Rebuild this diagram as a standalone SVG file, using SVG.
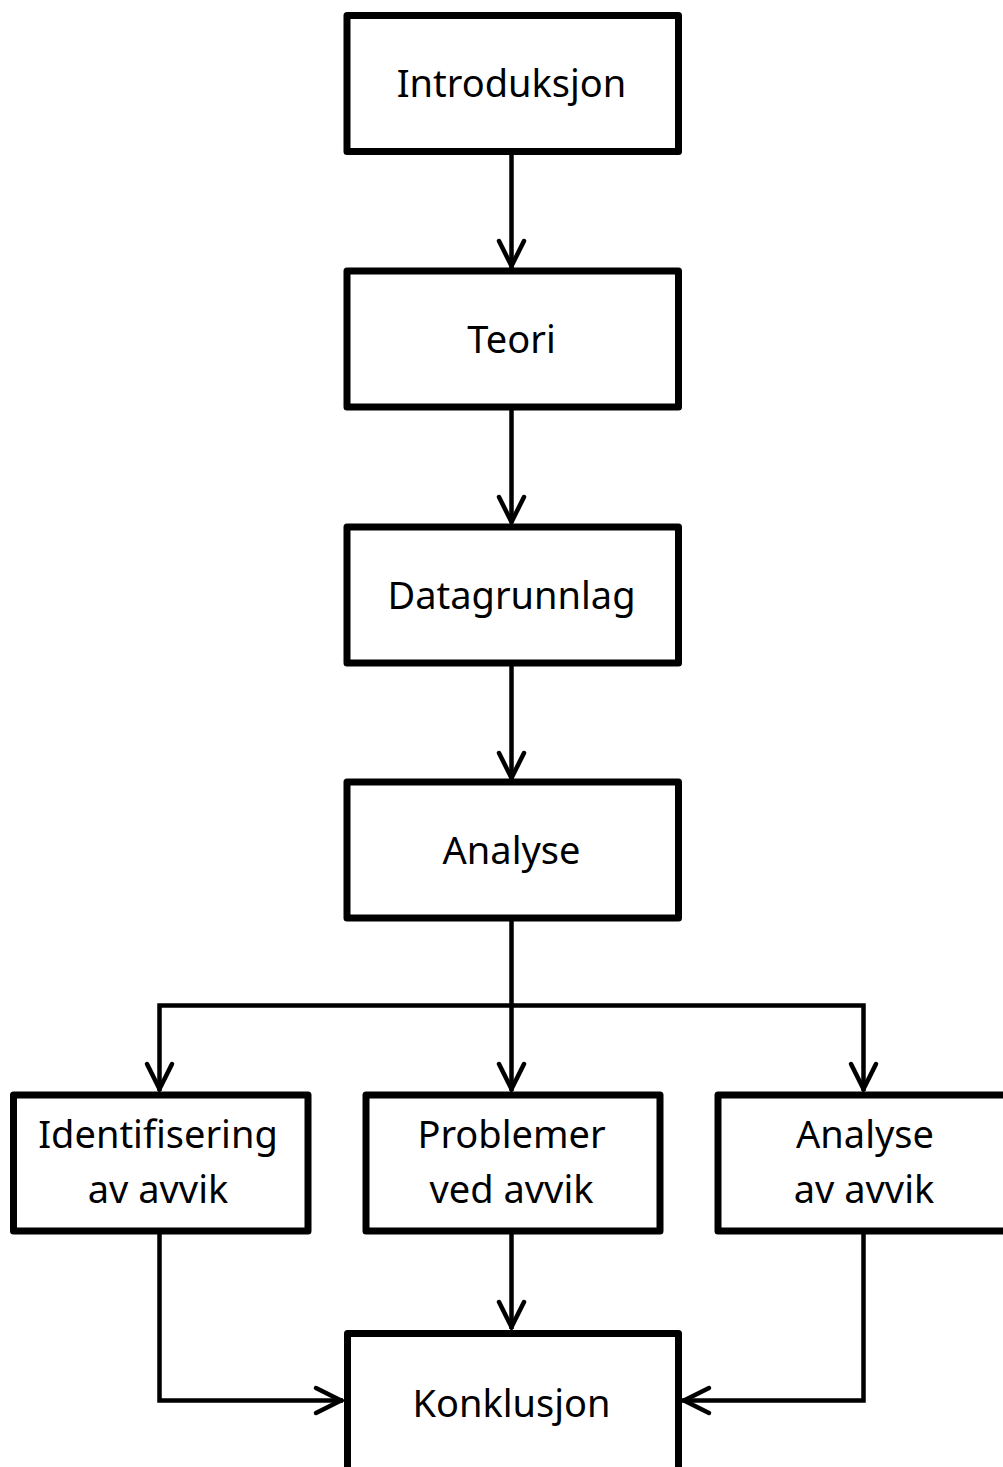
<svg xmlns="http://www.w3.org/2000/svg" width="1003" height="1467" viewBox="0 0 1003 1467">
<style>
.box{fill:#fff;stroke:#000;stroke-width:7;stroke-linejoin:round}
.c{fill:none;stroke:#000;stroke-width:4.5;stroke-linejoin:miter}
.ah{fill:none;stroke:#000;stroke-width:4.5;stroke-linecap:round;stroke-linejoin:miter}
text{font-family:"Noto Sans","Open Sans","Liberation Sans",sans-serif;font-size:38px;fill:#000;text-anchor:middle}
</style>
<rect width="1003" height="1467" fill="#fff"/>
<g id="connectors">
<path class="c" d="M511.5 151.5V268"/>
<path class="c" d="M511.5 407V523"/>
<path class="c" d="M511.5 663V779"/>
<path class="c" d="M511.5 918V1091"/>
<path class="c" d="M159.5 1091V1005.5H863.5V1091"/>
<path class="c" d="M159.5 1231V1400.5H343"/>
<path class="c" d="M863.5 1231V1400.5H682"/>
<path class="c" d="M511.5 1231V1329"/>
<path class="ah" d="M499 241L511.5 266L524 241"/>
<path class="ah" d="M499 497L511.5 522L524 497"/>
<path class="ah" d="M499 753L511.5 778L524 753"/>
<path class="ah" d="M147 1064L159.5 1089L172 1064"/>
<path class="ah" d="M499 1064L511.5 1089L524 1064"/>
<path class="ah" d="M851 1064L863.5 1089L876 1064"/>
<path class="ah" d="M499 1302L511.5 1327L524 1302"/>
<path class="ah" d="M316 1388L341 1400.5L316 1413"/>
<path class="ah" d="M709 1388L684 1400.5L709 1413"/>
</g>
<g id="n1"><rect class="box" x="347" y="15.5" width="331.5" height="136"/><text x="511.5" y="97">Introduksjon</text></g>
<g id="n2"><rect class="box" x="347" y="271" width="331.5" height="136"/><text x="511.5" y="353">Teori</text></g>
<g id="n3"><rect class="box" x="347" y="527" width="331.5" height="136"/><text x="511.5" y="609">Datagrunnlag</text></g>
<g id="n4"><rect class="box" x="347" y="782" width="331.5" height="136"/><text x="511.5" y="864">Analyse</text></g>
<g id="n5"><rect class="box" x="13.5" y="1095" width="294.5" height="136"/><text x="158" y="1148">Identifisering</text><text x="158" y="1203">av avvik</text></g>
<g id="n6"><rect class="box" x="366" y="1095" width="294" height="136"/><text x="511.5" y="1148">Problemer</text><text x="511.5" y="1203">ved avvik</text></g>
<g id="n7"><rect class="box" x="718" y="1095" width="294.5" height="136"/><text x="865" y="1148">Analyse</text><text x="864" y="1203">av avvik</text></g>
<g id="n8"><rect class="box" x="347.5" y="1333.5" width="331" height="150"/><text x="511.5" y="1417">Konklusjon</text></g>
</svg>
